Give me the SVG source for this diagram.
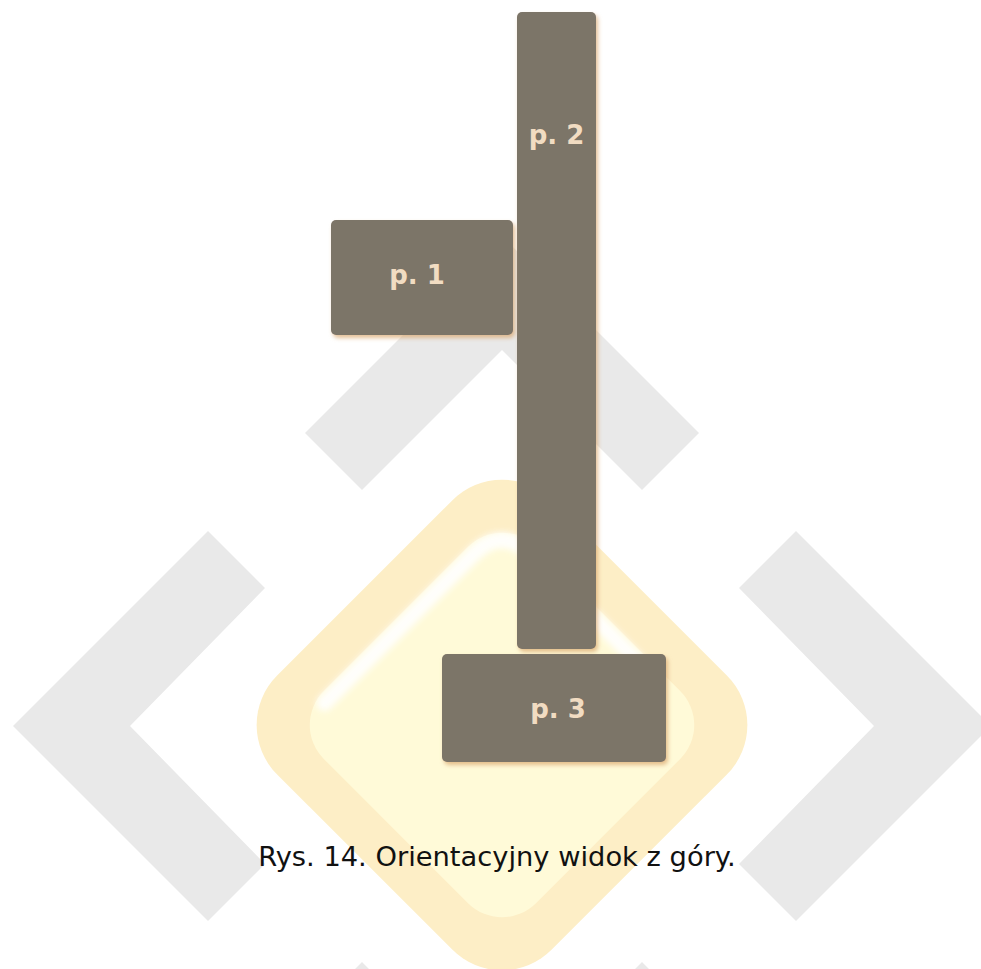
<svg xmlns="http://www.w3.org/2000/svg" width="981" height="969" viewBox="0 0 981 969">
  <style>
    .chev { fill: #e9e9e9; }
    .box { fill: #7c7468; filter: url(#glow); }
    .lbl { font-family: "DejaVu Sans", Verdana, sans-serif; font-weight: bold; font-size: 26px; fill: #f1dcc2; text-anchor: middle; }
    .cap { font-family: "DejaVu Sans", Verdana, sans-serif; font-size: 27.3px; fill: #111111; text-anchor: middle; }
  </style>
  <defs>
    <filter id="glow" x="-20%" y="-20%" width="140%" height="140%">
      <feDropShadow dx="2" dy="3" stdDeviation="2" flood-color="#d9a46a" flood-opacity="0.7"/>
    </filter>
    <filter id="soft" x="-10%" y="-10%" width="120%" height="120%">
      <feGaussianBlur stdDeviation="3"/>
    </filter>
  </defs>
  <rect width="981" height="969" fill="#ffffff"/>
  <g id="watermark">
    <polygon class="chev" points="13,726 208,531 265,588 130,726 265,864 208,921"/>
    <polygon class="chev" points="991,726 796,531 739,588 874,726 739,864 796,921"/>
    <polygon class="chev" points="305,433 502,236 699,433 642,490 502,350 362,490"/>
    <polygon class="chev" points="305,1019 502,1216 699,1019 642,962 502,1102 362,962"/>
    <g transform="translate(502,725) rotate(45)">
      <rect x="-194" y="-194" width="388" height="388" rx="70" fill="#fdeec6"/>
      <rect x="-150" y="-150" width="300" height="300" rx="48" fill="#fffad8"/>
      <path d="M -141 110 L -141 -100 Q -141 -141 -100 -141 L 60 -141" fill="none" stroke="#ffffff" stroke-width="16" stroke-linecap="round" opacity="0.9" filter="url(#soft)"/>
    </g>
  </g>
  <g id="connectors"></g>
  <g id="p2">
    <rect class="box" x="517" y="12" width="79" height="637" rx="5"/>
    <text class="lbl" x="556.5" y="144">p. 2</text>
  </g>
  <g id="p1">
    <rect class="box" x="331" y="220" width="182" height="115" rx="5"/>
    <text class="lbl" x="417" y="284">p. 1</text>
  </g>
  <g id="p3">
    <rect class="box" x="442" y="654" width="224" height="108" rx="5"/>
    <text class="lbl" x="558" y="718">p. 3</text>
  </g>
  <g id="caption">
    <text class="cap" x="497" y="866">Rys. 14. Orientacyjny widok z góry.</text>
  </g>
</svg>
